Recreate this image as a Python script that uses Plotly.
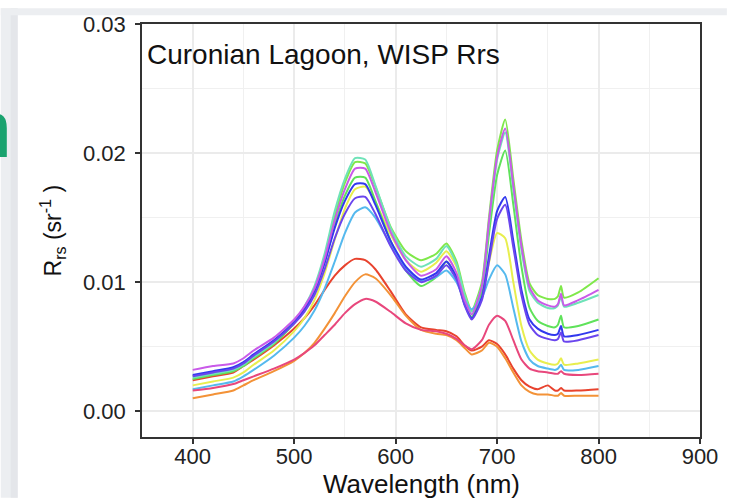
import plotly.graph_objects as go

# ---------------- data ----------------
wavelength = [400, 420, 440, 450, 460, 480, 500, 510, 520, 530, 540, 550, 560, 570, 580,
              595, 610, 625, 640, 650, 660, 668, 675, 685, 692, 700, 708, 716, 724, 732,
              740, 750, 757, 760, 763, 766, 780, 800]

rrs_lime = [.0027, .0030, .0033, .0037, .0043, .0054, .0070, .0080, .0095, .0119, .0151, .0177, .0193, .0192, .0174,
            .0143, .0124, .0117, .0122, .0130, .0116, .0092, .0078, .0100, .0150, .0202, .0226, .0180, .0132, .0099,
            .0090, .0087, .0087, .0089, .0097, .0088, .0092, .0103]
rrs_aquamarine = [.0026, .0029, .0032, .0036, .0042, .0053, .0070, .0081, .0097, .0122, .0155, .0180, .0196, .0195, .0175,
                  .0142, .0120, .0112, .0118, .0128, .0114, .0090, .0077, .0097, .0145, .0195, .0216, .0172, .0125, .0093,
                  .0084, .0080, .0080, .0082, .0089, .0081, .0084, .0090]
rrs_magenta = [.0032, .0035, .0037, .0041, .0047, .0057, .0071, .0081, .0095, .0118, .0148, .0172, .0188, .0188, .0170,
               .0139, .0117, .0105, .0110, .0120, .0107, .0086, .0075, .0097, .0147, .0197, .0219, .0175, .0128, .0096,
               .0086, .0082, .0081, .0083, .0091, .0082, .0086, .0094]
rrs_green = [.0025, .0028, .0031, .0035, .0041, .0052, .0068, .0078, .0092, .0115, .0144, .0167, .0181, .0181, .0163,
             .0132, .0109, .0097, .0104, .0116, .0103, .0083, .0073, .0093, .0137, .0183, .0202, .0160, .0112, .0080,
             .0070, .0066, .0065, .0067, .0074, .0065, .0066, .0071]
rrs_blue = [.0028, .0031, .0034, .0038, .0044, .0055, .0069, .0079, .0093, .0115, .0142, .0163, .0176, .0176, .0160,
            .0132, .0112, .0102, .0107, .0116, .0104, .0083, .0072, .0088, .0120, .0155, .0166, .0132, .0094, .0071,
            .0064, .0060, .0059, .0060, .0066, .0058, .0059, .0063]
rrs_violet = [.0027, .0030, .0033, .0037, .0043, .0054, .0068, .0077, .0090, .0110, .0134, .0153, .0165, .0166, .0153,
              .0128, .0109, .0100, .0105, .0113, .0102, .0082, .0071, .0086, .0116, .0149, .0160, .0127, .0090, .0067,
              .0059, .0056, .0055, .0056, .0061, .0054, .0055, .0059]
rrs_yellow = [.0020, .0023, .0026, .0030, .0036, .0047, .0062, .0072, .0086, .0107, .0133, .0157, .0172, .0174, .0162,
              .0137, .0117, .0108, .0115, .0124, .0112, .0089, .0078, .0090, .0115, .0138, .0134, .0100, .0066, .0047,
              .0040, .0037, .0036, .0037, .0041, .0036, .0037, .0040]
rrs_lightblue = [.0017, .0020, .0023, .0027, .0032, .0043, .0057, .0066, .0078, .0095, .0116, .0138, .0154, .0158, .0150,
                 .0129, .0111, .0101, .0104, .0109, .0100, .0086, .0079, .0088, .0102, .0113, .0106, .0080, .0054, .0040,
                 .0035, .0033, .0032, .0033, .0036, .0032, .0032, .0035]
rrs_pink = [.0016, .0018, .0021, .0024, .0027, .0033, .0040, .0045, .0051, .0059, .0067, .0076, .0083, .0087, .0085,
            .0077, .0068, .0063, .0062, .0060, .0056, .0051, .0048, .0055, .0067, .0074, .0070, .0055, .0040, .0033,
            .0031, .0030, .0029, .0029, .0031, .0029, .0028, .0029]
rrs_red = [.0024, .0027, .0030, .0035, .0040, .0051, .0064, .0072, .0082, .0094, .0105, .0113, .0118, .0117, .0110,
           .0093, .0075, .0065, .0063, .0062, .0058, .0051, .0047, .0050, .0055, .0052, .0044, .0033, .0024, .0019,
           .0017, .0020, .0016, .0016, .0018, .0016, .0016, .0017]
rrs_orange = [.0010, .0013, .0016, .0020, .0024, .0031, .0039, .0045, .0053, .0064, .0076, .0089, .0100, .0106, .0103,
              .0090, .0074, .0063, .0060, .0059, .0055, .0049, .0044, .0047, .0053, .0050, .0041, .0030, .0020, .0015,
              .0013, .0013, .0012, .0012, .0014, .0012, .0012, .0012]

series_names = ["red", "orange", "yellow", "lime", "green", "aquamarine",
                "lightblue", "blue", "violet", "magenta", "pink"]
series_values = [rrs_red, rrs_orange, rrs_yellow, rrs_lime, rrs_green, rrs_aquamarine,
                 rrs_lightblue, rrs_blue, rrs_violet, rrs_magenta, rrs_pink]

x_ticks = [400, 500, 600, 700, 800, 900]
y_ticks = [0.00, 0.01, 0.02, 0.03]
y_tick_text = ["0.00", "0.01", "0.02", "0.03"]

title_text = "Curonian Lagoon, WISP Rrs"
x_title = "Wavelength (nm)"
y_title = "R<sub>rs</sub> (sr<sup>-1</sup> )"

# ---------------- style ----------------
colors = {
    "red": "#e8432e", "orange": "#f39237", "yellow": "#e8ee4e", "lime": "#7fe84a",
    "green": "#5fe25a", "aquamarine": "#6fe3b8", "lightblue": "#55b9ee", "blue": "#3138ee",
    "violet": "#6a45ee", "magenta": "#c95ae9", "pink": "#e8477c",
}
FONT = "Liberation Sans, Arial, Helvetica, sans-serif"
W, H = 730, 499
L, R, T, B = 142, 27, 16, 62
PW, PH = W - L - R, H - T - B


def px(x):
    return (x - L) / PW


def py(y):
    return (H - B - y) / PH


fig = go.Figure()
for name, vals in zip(series_names, series_values):
    fig.add_trace(go.Scatter(x=wavelength, y=vals, mode="lines", name=name,
                             line=dict(color=colors[name], width=2, shape="spline", smoothing=0.6),
                             showlegend=False))

axis_common = dict(showline=True, mirror=True, linecolor="#333333", linewidth=1.5,
                   ticks="outside", ticklen=5, tickwidth=1.5, tickcolor="#333333",
                   showgrid=True, gridcolor="#ebebeb", gridwidth=1.5, zeroline=False,
                   tickfont=dict(family=FONT, size=22, color="#222222"))

fig.update_layout(
    width=W, height=H,
    margin=dict(l=L, r=R, t=T, b=B, pad=0),
    paper_bgcolor="white", plot_bgcolor="white",
    font=dict(family=FONT),
    xaxis=dict(range=[350, 900], tickvals=x_ticks,
               minor=dict(dtick=50, tick0=350, showgrid=True, gridcolor="#f0f0f0", gridwidth=1.2),
               ticklabelstandoff=-6,
               **axis_common),
    yaxis=dict(range=[-0.002, 0.03], tickvals=y_ticks, ticktext=y_tick_text,
               minor=dict(dtick=0.005, tick0=0, showgrid=True, gridcolor="#f0f0f0", gridwidth=1.2),
               ticklabelstandoff=5,
               **axis_common),
    shapes=[
        dict(type="rect", xref="paper", yref="paper", x0=px(0), x1=px(17), y0=py(H), y1=py(0),
             fillcolor="#eceef1", line=dict(width=0), layer="above"),
        dict(type="rect", xref="paper", yref="paper", x0=px(10), x1=px(17), y0=py(H), y1=py(0),
             fillcolor="#e4e6ea", line=dict(width=0), layer="above"),
        dict(type="rect", xref="paper", yref="paper", x0=px(0), x1=px(W), y0=py(7), y1=py(0),
             fillcolor="#eceef1", line=dict(width=0), layer="above"),
    ],
    annotations=[
        dict(text=title_text, xref="paper", yref="paper", x=px(145), y=py(47),
             xanchor="left", yanchor="middle", showarrow=False,
             font=dict(family=FONT, size=28, color="#111111")),
        dict(text=x_title, xref="paper", yref="paper", x=px(422.5), y=py(485),
             xanchor="center", yanchor="middle", showarrow=False,
             font=dict(family=FONT, size=26, color="#111111")),
        dict(text=y_title, xref="paper", yref="paper", x=px(52), y=py(226), textangle=-90,
             xanchor="center", yanchor="middle", showarrow=False,
             font=dict(family=FONT, size=23, color="#111111")),
        dict(text="n", xref="paper", yref="paper", x=px(13), y=py(123),
             xanchor="right", yanchor="middle", showarrow=False,
             font=dict(family=FONT, size=81, color="#1aa36f")),
    ],
)

fig.write_html("out.html")
